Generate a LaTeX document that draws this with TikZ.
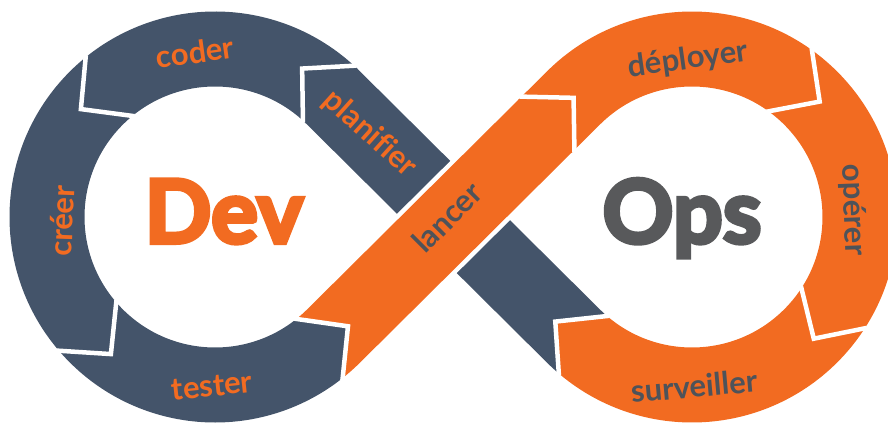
\documentclass[tikz,border=0pt]{standalone}
\usepackage{fontspec}
\setmainfont{Lato}[Ligatures=NoCommon]
\usetikzlibrary{calc}
\definecolor{slate}{HTML}{44546A}
\definecolor{flame}{HTML}{F26B21}
\definecolor{ink}{HTML}{4E535A}
\definecolor{opsgray}{HTML}{58595B}
% heavier face: fill and stroke the glyphs
\newcommand{\heavy}[1]{\special{pdf:literal direct 2 Tr 4 w}#1\special{pdf:literal direct 0 Tr}}
\tikzset{band/.style={line width=75pt, line cap=butt},
    gap/.style={white, line width=4.5pt, line join=miter},
    lbl/.style={font=\fontsize{31}{31}\selectfont\bfseries, inner sep=0pt},
    big/.style={font=\fontsize{88}{88}\selectfont\bfseries, inner sep=0pt, anchor=base}}
% arrow tip of one step into the next: back point, heading, colour
\newcommand{\tip}[3]{%
    \fill[#3] ($(#1)+({#2+90}:37.5)$) -- ($(#1)+(#2:37.5)$) -- ($(#1)+({#2-90}:37.5)$) -- cycle;
    \draw[gap] ($(#1)+({#2+90}:39)$) -- ($(#1)+(#2:37.5)$) -- ($(#1)+({#2-90}:39)$);}

\begin{document}
\begin{tikzpicture}[x=1pt, y=-1pt]
    \useasboundingbox (0,0) rectangle (888,425);
    %centres and tangent points
    \coordinate (L) at (215,217);
    \coordinate (R) at (692,217);
    \coordinate (TLu) at ($(L)+(-45.2:168)$);
    \coordinate (TLd) at ($(L)+(45.2:168)$);
    \coordinate (TRu) at ($(R)+(225.2:168)$);
    \coordinate (TRd) at ($(R)+(134.8:168)$);
    %step boundaries
    \coordinate (b1) at ($(L)+(-47:168)$);
    \coordinate (b2) at ($(L)+(-128.6:168)$);
    \coordinate (b3) at ($(L)+(-220.2:168)$);
    \coordinate (b4) at ($(L)+(-308:168)$);
    \coordinate (b5) at ($(TLd)!0.889!(TRu)$);
    \coordinate (b6) at ($(R)+(305.3:168)$);
    \coordinate (b7) at ($(R)+(392.4:168)$);
    \coordinate (b8) at ($(R)+(490:168)$);
    %bands
    \draw[band, slate] (b8) arc[start angle=490, end angle=494.8, radius=168] -- (TLu)
        arc[start angle=-45.2, end angle=-47, radius=168];
    \draw[white, line width=84pt] ($(TLd)!0.25!(TRu)$) -- ($(TLd)!0.75!(TRu)$);
    \draw[band, flame] (b4) arc[start angle=-308, end angle=-314.8, radius=168]
        -- ($(TLd)!0.892!(TRu)$);
    \draw[band, slate] ($(L)+(-46:168)$) arc[start angle=-46, end angle=-309, radius=168];
    \draw[band, flame] ($(TLd)!0.88!(TRu)$) -- (TRu) arc[start angle=225.2, end angle=491, radius=168];
    %arrow tips
    \tip{b1}{-137}{slate}
    \tip{b2}{-218.6}{slate}
    \tip{b3}{-310.2}{slate}
    \tip{b4}{-398}{slate}
    \tip{b5}{-44.8}{flame}
    \tip{b6}{395.3}{flame}
    \tip{b7}{482.4}{flame}
    \tip{b8}{580}{flame}
    %labels
    \node[lbl, text=flame, rotate=8] (coder) at (195,52) {coder};
    \node[lbl, text=flame, rotate=-42] (planifier) at (370,134) {planifier};
    \node[lbl, text=flame, rotate=88] (creer) at (62,221) {créer};
    \node[lbl, text=flame, rotate=6] (tester) at (212,386) {tester};
    \node[lbl, text=ink, rotate=45] (lancer) at (447,217) {lancer};
    \node[lbl, text=ink, rotate=8] (deployer) at (688,60) {déployer};
    \node[lbl, text=ink, rotate=-88] (operer) at (853,210) {opérer};
    \node[lbl, text=ink, rotate=5] (surveiller) at (694,386) {surveiller};
    \node[big, text=flame] (dev) at (224,243) {\heavy{Dev}};
    \node[big, text=opsgray] (ops) at (682,243) {\heavy{Ops}};
\end{tikzpicture}
\end{document}
